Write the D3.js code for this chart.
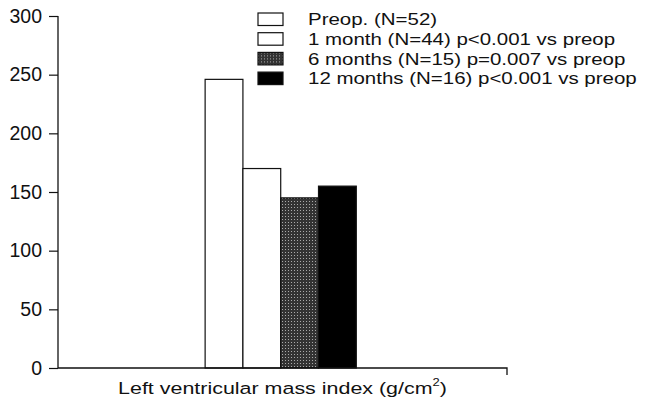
<!DOCTYPE html>
<html>
<head>
<meta charset="utf-8">
<script src="https://cdn.jsdelivr.net/npm/d3@7"></script>
<style>
body { margin: 0; background: #fff; }
text { font-family: "Liberation Sans", Arial, sans-serif; fill: #111; }
</style>
</head>
<body>
<div id="chart"></div>
<script>
var width = 664;
var height = 405;

var categories = ["Left ventricular mass index"];
var series = ["Preop. (N=52)", "1 month (N=44) p<0.001 vs preop", "6 months (N=15) p=0.007 vs preop", "12 months (N=16) p<0.001 vs preop"];
var values = [246, 170, 145, 155];
var yTicks = [0, 50, 100, 150, 200, 250, 300];
var fills = ["#fff", "#fff", "url(#dots)", "#000"];

var margin = {top: 16, right: 157, bottom: 36, left: 58};

var svg = d3.select("#chart")
    .append("svg")
        .attr("width", width)
        .attr("height", height);

// stippled fill for the 6 months bar
var pat = svg.append("defs").append("pattern")
    .attr("id", "dots")
    .attr("width", 3)
    .attr("height", 3)
    .attr("patternUnits", "userSpaceOnUse");
pat.append("rect").attr("width", 3).attr("height", 3).attr("fill", "#333");
pat.append("rect").attr("width", 1).attr("height", 1).attr("fill", "#aaa");

var y = d3.scaleLinear()
    .domain([0, 300])
    .range([height - margin.bottom - 1, margin.top]);

var x0 = d3.scaleBand()
    .domain(categories)
    .range([margin.left, width - margin.right])
    .paddingOuter(0.985)
    .align(0.494);

var x1 = d3.scaleBand()
    .domain(series)
    .range([0, x0.bandwidth()]);

var g = svg.append("g");

// bars
categories.forEach(function(c) {
  g.selectAll(".bar")
    .data(series)
    .enter().append("rect")
      .attr("class", "bar")
      .attr("x", d => x0(c) + x1(d))
      .attr("y", (d, i) => y(values[i]))
      .attr("width", x1.bandwidth())
      .attr("height", (d, i) => y(0) - y(values[i]))
      .attr("fill", (d, i) => fills[i])
      .attr("stroke", "#111")
      .attr("stroke-width", 1.2);
});

// y axis
var yAxis = d3.axisLeft(y).tickValues(yTicks).tickSize(9).tickPadding(7);
var ya = svg.append("g")
    .attr("transform", `translate(${margin.left},0)`)
    .call(yAxis);
ya.select(".domain").attr("d", `M0,${y(300)}V${y(0)}`).attr("stroke", "#111").attr("stroke-width", 1.3);
ya.selectAll(".tick line").attr("stroke", "#111").attr("stroke-width", 1.2);
ya.selectAll("text").style("font-size", "19.5px").style("font-family", "'Liberation Sans', Arial, sans-serif").attr("fill", "#111");

// x axis line with end tick
var xr = x0.range();
svg.append("path")
    .attr("d", `M${xr[0]},${y(0)}H${xr[1]}V${y(0) + 7}`)
    .attr("fill", "none")
    .attr("stroke", "#111")
    .attr("stroke-width", 1.3);

// the scanned lettering is wider than plain Arial, hence the scaleX
var xl = svg.append("text")
    .attr("transform", `translate(${(xr[0] + xr[1]) / 2},394) scale(1.3,1)`)
    .attr("text-anchor", "middle")
    .style("font-size", "16.5px");
xl.append("tspan").text("Left ventricular mass index (g/cm");
xl.append("tspan").attr("dy", -8).style("font-size", "10px").text("2");
xl.append("tspan").attr("dy", 8).text(")");

// legend
var legend = svg.append("g").attr("transform", "translate(258,13)");
var row = legend.selectAll(".row")
    .data(series)
    .enter().append("g")
      .attr("class", "row")
      .attr("transform", (d, i) => `translate(0,${i * 19.7})`);
row.append("rect")
    .attr("width", 25)
    .attr("height", 12.5)
    .attr("fill", (d, i) => fills[i])
    .attr("stroke", "#111")
    .attr("stroke-width", 1.2);
row.append("text")
    .attr("transform", "translate(50,6.5) scale(1.28,1)")
    .attr("dy", "0.35em")
    .style("font-size", "16px")
    .text(d => d);
</script>
</body>
</html>
